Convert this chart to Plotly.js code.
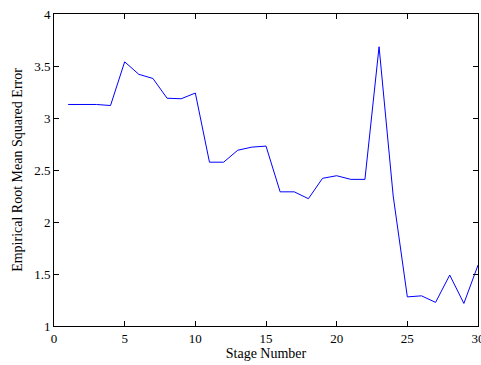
<!DOCTYPE html>
<html>
<head>
<meta charset="utf-8">
<script src="https://cdn.plot.ly/plotly-3.0.1.min.js"></script>
<style>html,body{margin:0;padding:0;background:#fff;}#chart{width:481px;height:365px;}</style>
</head>
<body>
<div id="chart"></div>
<script>
const stages = [1,2,3,4,5,6,7,8,9,10,11,12,13,14,15,16,17,18,19,20,21,22,23,24,25,26,27,28,29,30];
const rmse = [3.13,3.13,3.13,3.12,3.54,3.42,3.38,3.19,3.185,3.24,2.575,2.575,2.69,2.72,2.73,2.29,2.29,2.224,2.42,2.445,2.41,2.41,3.685,2.25,1.28,1.29,1.227,1.49,1.217,1.585];
const xTicks = [0,5,10,15,20,25,30];
const yTicks = [1,1.5,2,2.5,3,3.5,4];
const yTickText = ['1','1.5','2','2.5','3','3.5','4'];

const font = {family: 'Liberation Serif, DejaVu Serif, serif', size: 13, color: '#000'};
const titleFont = {family: 'Liberation Serif, DejaVu Serif, serif', size: 14, color: '#000'};
const axisCommon = {
  showgrid: false, zeroline: false, showline: true, linecolor: '#000', linewidth: 1,
  mirror: 'allticks', ticks: 'inside', ticklen: 5, tickcolor: '#000', tickwidth: 1,
  tickfont: font, ticklabeloverflow: 'allow'
};
Plotly.newPlot('chart', [{
  x: stages, y: rmse, type: 'scatter', mode: 'lines',
  line: {color: '#0000ff', width: 1}
}], {
  width: 481, height: 365,
  margin: {l: 54, r: 3, t: 14, b: 39},
  paper_bgcolor: '#fff', plot_bgcolor: '#fff',
  showlegend: false,
  font: font,
  xaxis: Object.assign({}, axisCommon, {range: [0, 30], tickvals: xTicks, ticktext: xTicks.map(String),
    title: {text: 'Stage Number', font: titleFont, standoff: 3}}),
  yaxis: Object.assign({}, axisCommon, {range: [1, 4], tickvals: yTicks, ticktext: yTickText,
    title: {text: 'Empirical Root Mean Squared Error', font: titleFont, standoff: 8}})
}, {displayModeBar: false, staticPlot: true});
</script>
</body>
</html>
